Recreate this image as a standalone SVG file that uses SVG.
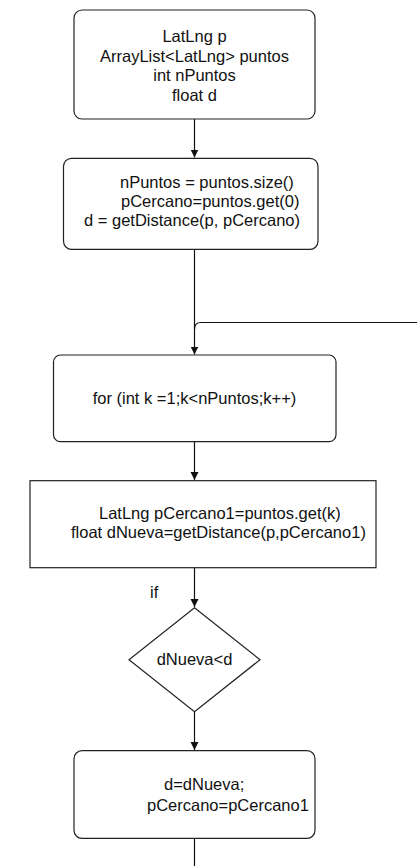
<svg xmlns="http://www.w3.org/2000/svg" width="417" height="866" viewBox="0 0 417 866">
<style>
.box{fill:#fff;stroke:#222;stroke-width:1.2}
.t{font-family:"Liberation Sans",Arial,sans-serif;font-size:16.5px;fill:#111}
.c{text-anchor:middle}
.ln{fill:none;stroke:#111;stroke-width:1.2}
</style>
<defs>
<marker id="ah" markerWidth="9" markerHeight="9" refX="8" refY="4" orient="auto" markerUnits="userSpaceOnUse">
<path d="M0,0 L8,4 L0,8 z" fill="#111"/>
</marker>
</defs>
<rect width="417" height="866" fill="#fff"/>
<g id="connectors">
<path class="ln" d="M194.5,119 V157.5" marker-end="url(#ah)"/>
<path class="ln" d="M194.5,249.5 V354.5" marker-end="url(#ah)"/>
<path class="ln" d="M417,322.5 H201 Q194.5,322.5 194.5,329"/>
<path class="ln" d="M194.5,441.7 V480" marker-end="url(#ah)"/>
<path class="ln" d="M194.5,567.7 V607" marker-end="url(#ah)"/>
<path class="ln" d="M194.5,711.7 V750" marker-end="url(#ah)"/>
<path class="ln" d="M194.5,838.3 V866"/>
</g>
<g id="n1">
<rect class="box" x="74" y="10" width="241" height="109" rx="8"/>
<text class="t c" x="194.5" y="42">LatLng p</text>
<text class="t c" x="194.5" y="61.5">ArrayList&lt;LatLng&gt; puntos</text>
<text class="t c" x="194.5" y="81">int nPuntos</text>
<text class="t c" x="194.5" y="100.5">float d</text>
</g>
<g id="n2">
<rect class="box" x="63.5" y="158.3" width="254.5" height="91" rx="8"/>
<text class="t" x="120" y="187.5">nPuntos = puntos.size()</text>
<text class="t" x="121" y="206.5">pCercano=puntos.get(0)</text>
<text class="t" x="84" y="225.5">d = getDistance(p, pCercano)</text>
</g>
<g id="n3">
<rect class="box" x="53.5" y="355" width="282.5" height="86.7" rx="7"/>
<text class="t c" x="194.5" y="403.5">for (int k =1;k&lt;nPuntos;k++)</text>
</g>
<g id="n4">
<rect class="box" x="30" y="480.7" width="346" height="87"/>
<text class="t" x="99" y="519.3">LatLng pCercano1=puntos.get(k)</text>
<text class="t" x="71" y="538.3">float dNueva=getDistance(p,pCercano1)</text>
</g>
<g id="n5">
<polygon class="box" points="194.5,607.7 260,659.7 194.5,711.7 129,659.7"/>
<text class="t c" x="194.5" y="665">dNueva&lt;d</text>
</g>
<text class="t" x="150" y="597.5">if</text>
<g id="n6">
<rect class="box" x="74" y="750.7" width="241" height="87.6" rx="8"/>
<text class="t" x="164" y="790">d=dNueva;</text>
<text class="t" x="147" y="810.7">pCercano=pCercano1</text>
</g>
</svg>
